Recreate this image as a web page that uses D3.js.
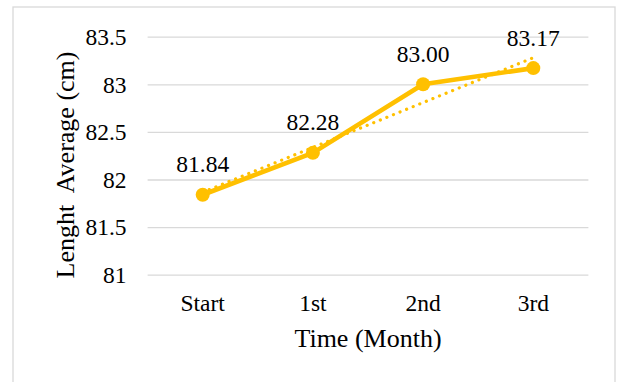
<!DOCTYPE html>
<html>
<head>
<meta charset="utf-8">
<script src="https://cdn.jsdelivr.net/npm/d3@7"></script>
<style>
  body { margin: 0; background: #fff; }
  text { font-family: "Liberation Serif", "Times New Roman", serif; fill: #000; }
</style>
</head>
<body>
<svg width="617" height="382"></svg>
<script>
let width = 617;
let height = 382;

// plot area inside the chart frame
let margin = {
    top: 36.7,
    right: 28.6,
    bottom: 107.3,
    left: 147.6
};

// data
let months = ["Start", "1st", "2nd", "3rd"];
let lengthAvg = [81.84, 82.28, 83.00, 83.17];
let yTicks = [81, 81.5, 82, 82.5, 83, 83.5];

let gold = "#FFC000";

let svg = d3.select("svg");

// chart frame
svg.append("rect")
    .attr("x", 13)
    .attr("y", 7)
    .attr("width", 602)
    .attr("height", 400)
    .style("fill", "#fff")
    .style("stroke", "#d9d9d9")
    .style("stroke-width", "1.3px");

let x = d3.scaleBand()
    .domain(months)
    .range([margin.left, width - margin.right]);

let y = d3.scaleLinear()
    .domain([81, 83.5])
    .range([height - margin.bottom, margin.top]);

let cx = d => x(d) + x.bandwidth() / 2;

// y axis with gridlines
let yAxisSettings = d3.axisLeft(y)
    .tickValues(yTicks)
    .tickSize(-(width - margin.left - margin.right))
    .tickPadding(21)
    .tickFormat(d => d);

let yAxisTicks = svg.append("g")
    .attr("class", "y axis")
    .attr("transform", `translate(${margin.left},0)`)
    .call(yAxisSettings);

yAxisTicks.select(".domain").remove();
yAxisTicks.selectAll("line")
    .style("stroke", "#d9d9d9")
    .style("stroke-width", "1.3px");
yAxisTicks.selectAll("text")
    .attr("dy", "0.33em")
    .style("font-size", "23.5px");

// x axis labels
let xAxisSettings = d3.axisBottom(x)
    .tickSize(0)
    .tickPadding(19.3);

let xAxisTicks = svg.append("g")
    .attr("class", "x axis")
    .attr("transform", `translate(0,${height - margin.bottom})`)
    .call(xAxisSettings);

xAxisTicks.select(".domain").remove();
xAxisTicks.selectAll("text")
    .style("font-size", "23.5px");

// linear trendline (least squares over category index)
let n = lengthAvg.length;
let xs = lengthAvg.map((d, i) => i + 1);
let mx = d3.mean(xs);
let my = d3.mean(lengthAvg);
let slope = d3.sum(xs.map((v, i) => (v - mx) * (lengthAvg[i] - my))) /
    d3.sum(xs.map(v => (v - mx) * (v - mx)));
let intercept = my - slope * mx;
let trend = [
    { m: months[0], v: intercept + slope * 1 },
    { m: months[n - 1], v: intercept + slope * n }
];

let line = d3.line()
    .x(d => cx(d.m))
    .y(d => y(d.v));

let series = months.map((m, i) => ({ m: m, v: lengthAvg[i] }));

svg.append("path")
    .attr("d", line(trend))
    .style("fill", "none")
    .style("stroke", gold)
    .style("stroke-width", "3.2px")
    .style("stroke-linecap", "round")
    .style("stroke-dasharray", "0.1 7");

svg.append("path")
    .attr("d", line(series))
    .style("fill", "none")
    .style("stroke", gold)
    .style("stroke-width", "4.6px")
    .style("stroke-linejoin", "round");

svg.append("g")
    .selectAll("circle")
    .data(series)
    .join("circle")
    .attr("cx", d => cx(d.m))
    .attr("cy", d => y(d.v))
    .attr("r", 7)
    .style("fill", gold);

// data labels
svg.append("g")
    .selectAll("text")
    .data(series)
    .join("text")
    .attr("x", d => cx(d.m))
    .attr("y", d => y(d.v) - 22.5)
    .attr("text-anchor", "middle")
    .style("font-size", "23.5px")
    .text(d => d3.format(".2f")(d.v));

// axis titles
svg.append("text")
    .attr("x", cx(months[1]) + x.bandwidth() / 2)
    .attr("y", 347.3)
    .attr("text-anchor", "middle")
    .style("font-size", "26px")
    .text("Time (Month)");

svg.append("text")
    .attr("transform", "translate(73.5,165) rotate(-90)")
    .attr("text-anchor", "middle")
    .style("font-size", "26px")
    .style("white-space", "pre")
    .text("Lenght  Average (cm)");
</script>
</body>
</html>
